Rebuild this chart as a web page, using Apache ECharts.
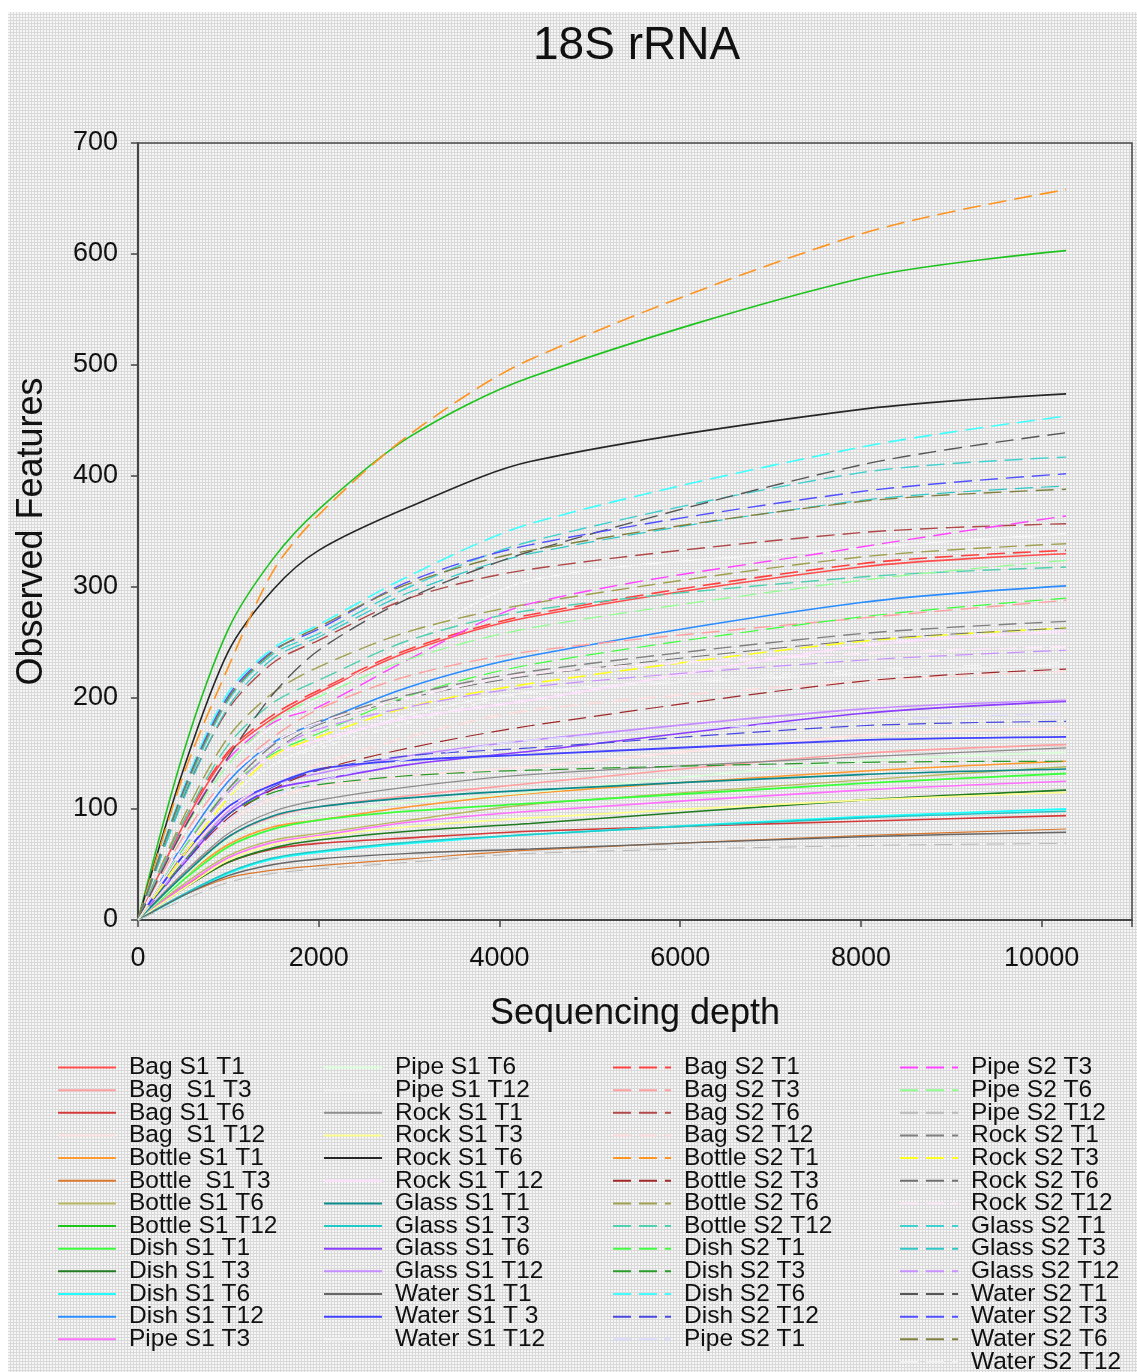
<!DOCTYPE html>
<html>
<head>
<meta charset="utf-8">
<title>18S rRNA</title>
<script src="https://cdn.jsdelivr.net/npm/echarts@6/dist/echarts.min.js"></script>
<style>
  html, body { margin: 0; padding: 0; background: #ffffff; }
  #bg {
    position: absolute; left: 8px; top: 12px; width: 1129px; height: 1360px;
    background-color: #d9d9d9;
    background-image: radial-gradient(circle at 1px 1px, #f6f6f6 0.9px, rgba(246,246,246,0) 1.2px);
    background-size: 3px 3px;
  }
  #chart { position: absolute; left: 0; top: 0; width: 1137px; height: 1372px; }
</style>
</head>
<body>
<div id="bg"></div>
<div id="chart"></div>
<script>
// Sequencing depths at which the rarefaction curves are sampled
const depths = [0, 500, 1000, 1500, 2000, 3000, 4340, 8000, 10270];

// Axis ticks
const yTicks = [0, 100, 200, 300, 400, 500, 600, 700];
const xTicks = [0, 2000, 4000, 6000, 8000, 10000];

// Observed features per sample (S1 samples)
const bagS1T1 = [0, 85, 150, 182, 205, 242, 273, 318, 330];
const bagS1T3 = [0, 42, 75, 93, 102, 112, 123, 150, 158];
const bagS1T6 = [0, 30, 52, 64, 69, 74, 80, 89, 94];
const bagS1T12 = [0, 50, 88, 110, 120, 130, 138, 166, 173];
const bottleS1T1 = [0, 38, 68, 84, 90, 102, 114, 134, 143];
const bottleS1T3 = [0, 22, 38, 45, 49, 55, 63, 76, 82];
const bottleS1T6 = [0, 32, 58, 72, 78, 90, 104, 126, 138];
const bottleS1T12 = [0, 150, 262, 326, 370, 435, 489, 578, 603];
const dishS1T1 = [0, 36, 66, 82, 90, 98, 105, 123, 132];
const dishS1T3 = [0, 28, 52, 65, 72, 80, 87, 108, 117];
const dishS1T6 = [0, 22, 42, 55, 61, 69, 77, 93, 100];
const dishS1T12 = [0, 68, 125, 160, 178, 210, 238, 286, 301];
const pipeS1T3 = [0, 30, 56, 70, 76, 88, 98, 117, 125];
const pipeS1T6 = [0, 38, 72, 88, 96, 106, 115, 143, 151];
const pipeS1T12 = [0, 60, 110, 140, 158, 185, 205, 222, 230];
const rockS1T1 = [0, 42, 78, 98, 108, 120, 131, 147, 155];
const rockS1T3 = [0, 28, 54, 68, 75, 84, 92, 108, 115];
const rockS1T6 = [0, 135, 242, 298, 333, 372, 413, 460, 474];
const rockS1T12 = [0, 65, 118, 148, 162, 182, 198, 247, 260];
const glassS1T1 = [0, 40, 75, 94, 102, 110, 117, 131, 136];
const glassS1T3 = [0, 23, 43, 56, 62, 70, 77, 92, 98];
const glassS1T6 = [0, 50, 95, 118, 126, 140, 152, 186, 197];
const glassS1T12 = [0, 52, 98, 122, 132, 148, 162, 190, 198];
const waterS1T1 = [0, 22, 40, 50, 55, 60, 64, 75, 79];
const waterS1T3 = [0, 58, 102, 122, 136, 144, 149, 162, 165];
const waterS1T12 = [0, 78, 140, 175, 200, 250, 306, 335, 348];

// Observed features per sample (S2 samples)
const bagS2T1 = [0, 88, 152, 185, 207, 244, 275, 321, 333];
const bagS2T3 = [0, 75, 130, 165, 190, 220, 242, 272, 288];
const bagS2T6 = [0, 110, 190, 232, 252, 290, 316, 349, 357];
const bagS2T12 = [0, 55, 100, 125, 140, 165, 189, 215, 224];
const bottleS2T1 = [0, 130, 228, 315, 365, 437, 505, 618, 658];
const bottleS2T3 = [0, 50, 92, 118, 135, 155, 175, 215, 226];
const bottleS2T6 = [0, 92, 165, 205, 228, 260, 285, 327, 339];
const bottleS2T12 = [0, 88, 158, 196, 216, 252, 279, 309, 318];
const dishS2T1 = [0, 64, 118, 150, 168, 202, 230, 273, 290];
const dishS2T3 = [0, 52, 95, 115, 122, 130, 135, 142, 143];
const dishS2T6 = [0, 118, 205, 245, 266, 310, 357, 426, 454];
const dishS2T12 = [0, 50, 95, 120, 135, 148, 155, 175, 179];
const pipeS2T1 = [0, 48, 90, 112, 125, 145, 162, 180, 186];
const pipeS2T3 = [0, 82, 145, 178, 192, 235, 285, 336, 364];
const pipeS2T6 = [0, 80, 140, 180, 201, 235, 263, 306, 324];
const pipeS2T12 = [0, 18, 34, 42, 46, 52, 60, 67, 69];
const rockS2T1 = [0, 62, 118, 158, 179, 203, 224, 258, 269];
const rockS2T3 = [0, 58, 110, 148, 165, 192, 213, 251, 263];
const rockS2T6 = [0, 62, 115, 152, 176, 200, 220, 252, 263];
const rockS2T12 = [0, 70, 128, 160, 178, 200, 222, 240, 246];
const glassS2T1 = [0, 112, 198, 240, 258, 300, 341, 403, 417];
const glassS2T3 = [0, 108, 192, 236, 255, 295, 330, 378, 391];
const glassS2T12 = [0, 62, 115, 152, 172, 192, 210, 234, 243];
const waterS2T1 = [0, 81, 147, 204, 243, 290, 332, 410, 439];
const waterS2T3 = [0, 116, 202, 243, 262, 305, 338, 386, 402];
const waterS2T6 = [0, 115, 200, 242, 264, 303, 333, 377, 388];
const waterS2T12 = [0, 62, 112, 140, 155, 178, 205, 225, 232];

// Legend columns: [label, values, colour, dashed, width]
const column1 = [
  ['Bag S1 T1', bagS1T1, '#ff4d4d', false, 1.6],
  ['Bag  S1 T3', bagS1T3, '#ff9f9f', false, 1.6],
  ['Bag S1 T6', bagS1T6, '#d23a3a', false, 1.6],
  ['Bag  S1 T12', bagS1T12, '#ffe2e2', false, 1.8],
  ['Bottle S1 T1', bottleS1T1, '#ff9a30', false, 1.6],
  ['Bottle  S1 T3', bottleS1T3, '#d9782e', false, 1.2],
  ['Bottle S1 T6', bottleS1T6, '#b8b860', false, 1.4],
  ['Bottle S1 T12', bottleS1T12, '#1ec31e', false, 1.6],
  ['Dish S1 T1', dishS1T1, '#3cff3c', false, 1.8],
  ['Dish S1 T3', dishS1T3, '#207a20', false, 1.6],
  ['Dish S1 T6', dishS1T6, '#20ffff', false, 1.8],
  ['Dish S1 T12', dishS1T12, '#2a8cff', false, 1.6],
  ['Pipe S1 T3', pipeS1T3, '#ff70ff', false, 1.6]
];
const column2 = [
  ['Pipe S1 T6', pipeS1T6, '#d8ffd8', false, 1.6],
  ['Pipe S1 T12', pipeS1T12, '#f2f2f2', false, 1.2],
  ['Rock S1 T1', rockS1T1, '#8c8c8c', false, 1.2],
  ['Rock S1 T3', rockS1T3, '#ffff90', false, 1.6],
  ['Rock S1 T6', rockS1T6, '#262626', false, 1.6],
  ['Rock S1 T 12', rockS1T12, '#ffe0ff', false, 1.8],
  ['Glass S1 T1', glassS1T1, '#0a8a8a', false, 1.6],
  ['Glass S1 T3', glassS1T3, '#20c8c8', false, 1.6],
  ['Glass S1 T6', glassS1T6, '#8a3cff', false, 1.6],
  ['Glass S1 T12', glassS1T12, '#c48cff', false, 1.6],
  ['Water S1 T1', waterS1T1, '#666666', false, 1.4],
  ['Water S1 T 3', waterS1T3, '#4040ff', false, 1.8],
  ['Water S1 T12', waterS1T12, '#f4f4f4', false, 1.4]
];
const column3 = [
  ['Bag S2 T1', bagS2T1, '#ff4040', true, 1.6],
  ['Bag S2 T3', bagS2T3, '#ffa0a0', true, 1.4],
  ['Bag S2 T6', bagS2T6, '#b04848', true, 1.4],
  ['Bag S2 T12', bagS2T12, '#ffdcdc', true, 1.6],
  ['Bottle S2 T1', bottleS2T1, '#ff9420', true, 1.6],
  ['Bottle S2 T3', bottleS2T3, '#a02828', true, 1.2],
  ['Bottle S2 T6', bottleS2T6, '#a0a050', true, 1.4],
  ['Bottle S2 T12', bottleS2T12, '#50d0b0', true, 1.4],
  ['Dish S2 T1', dishS2T1, '#40ff40', true, 1.2],
  ['Dish S2 T3', dishS2T3, '#2a9a2a', true, 1.2],
  ['Dish S2 T6', dishS2T6, '#40ffff', true, 1.6],
  ['Dish S2 T12', dishS2T12, '#4848e0', true, 1.2],
  ['Pipe S2 T1', pipeS2T1, '#dcdcff', true, 1.4]
];
const column4 = [
  ['Pipe S2 T3', pipeS2T3, '#ff44ff', true, 1.4],
  ['Pipe S2 T6', pipeS2T6, '#90ff90', true, 1.2],
  ['Pipe S2 T12', pipeS2T12, '#b8b8b8', true, 1.0],
  ['Rock S2 T1', rockS2T1, '#808080', true, 1.4],
  ['Rock S2 T3', rockS2T3, '#ffff20', true, 1.6],
  ['Rock S2 T6', rockS2T6, '#707070', true, 1.0],
  ['Rock S2 T12', rockS2T12, '#ffe8f8', true, 1.6],
  ['Glass S2 T1', glassS2T1, '#40d0d0', true, 1.4],
  ['Glass S2 T3', glassS2T3, '#30c8c8', true, 1.2],
  ['Glass S2 T12', glassS2T12, '#c890ff', true, 1.2],
  ['Water S2 T1', waterS2T1, '#555555', true, 1.4],
  ['Water S2 T3', waterS2T3, '#5050ff', true, 1.4],
  ['Water S2 T6', waterS2T6, '#808040', true, 1.4],
  ['Water S2 T12', waterS2T12, '#f0f0f0', true, 1.2]
];

const columns = [column1, column2, column3, column4];
const legendLeft = [57, 323, 612, 899];
const FONT = '"Liberation Sans", Arial, sans-serif';

const series = [];
columns.forEach(col => col.forEach(([name, values, color, dashed, width]) => {
  series.push({
    name: name,
    type: 'line',
    symbol: 'none',
    smooth: 0.3,
    color: color,
    lineStyle: { color: color, width: width, type: dashed ? [18, 8] : 'solid' },
    data: values.map((v, i) => [depths[i], v]),
    emphasis: { disabled: true },
    z: 3
  });
}));

const legends = columns.map((col, i) => ({
  orient: 'vertical',
  left: legendLeft[i],
  top: 1055,
  height: 330,
  padding: 0,
  itemWidth: 58,
  itemHeight: 12,
  itemGap: -2.35,
  selectedMode: false,
  itemStyle: { opacity: 0, borderWidth: 0 },
  lineStyle: { width: 2 },
  textStyle: { fontSize: 24.5, color: '#111', fontFamily: FONT, padding: [0, 0, 0, 8] },
  data: col.map(r => r[0])
}));

const chart = echarts.init(document.getElementById('chart'), null, { renderer: 'canvas' });
chart.setOption({
  animation: false,
  backgroundColor: 'transparent',
  title: {
    text: '18S rRNA',
    left: 528,
    top: 18,
    textStyle: { fontSize: 46, fontWeight: 'normal', color: '#111', fontFamily: FONT }
  },
  legend: legends,
  grid: {
    left: 138, top: 143, width: 994, height: 777,
    show: true, borderColor: '#454545', borderWidth: 1.5, backgroundColor: 'transparent'
  },
  xAxis: {
    type: 'value',
    min: 0, max: 11000, interval: 2000,
    name: 'Sequencing depth',
    nameLocation: 'middle',
    nameGap: 76,
    nameTextStyle: { fontSize: 36, color: '#111', fontFamily: FONT },
    axisLine: { show: true, onZero: false, lineStyle: { color: '#454545', width: 2 } },
    axisTick: { show: true, inside: false, length: 7, lineStyle: { color: '#454545', width: 1.5 } },
    axisLabel: {
      fontSize: 27, color: '#111', fontFamily: FONT, margin: 25,
      formatter: v => (xTicks.indexOf(v) >= 0 ? String(v) : '')
    },
    splitLine: { show: false }
  },
  yAxis: {
    type: 'value',
    min: 0, max: 700, interval: 100,
    name: 'Observed Features',
    nameLocation: 'middle',
    nameGap: 88,
    nameRotate: 90,
    nameTextStyle: { fontSize: 36, color: '#111', fontFamily: FONT },
    axisLine: { show: true, onZero: false, lineStyle: { color: '#454545', width: 2 } },
    axisTick: { show: true, inside: false, length: 7, lineStyle: { color: '#454545', width: 1.5 } },
    axisLabel: {
      fontSize: 27, color: '#111', fontFamily: FONT, margin: 20,
      formatter: v => (yTicks.indexOf(v) >= 0 ? String(v) : '')
    },
    splitLine: { show: false }
  },
  series: series
});
</script>
</body>
</html>
